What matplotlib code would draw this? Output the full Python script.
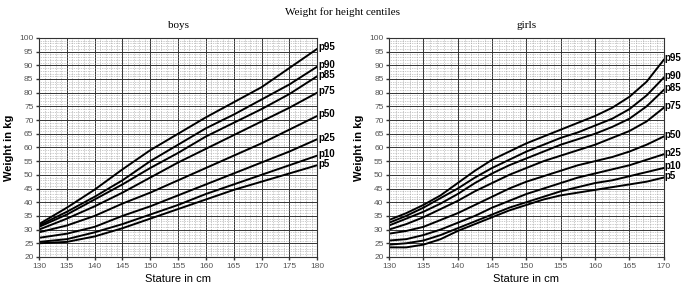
import numpy as np
import matplotlib
matplotlib.use("Agg")
import matplotlib.pyplot as plt
from matplotlib.ticker import MultipleLocator

# stature (cm) and weight (kg) centiles
boys_height = [130, 135, 140, 145, 150, 155, 160, 165, 170, 175, 180]
boys_centiles = {
    "p95": [32, 38, 44.6, 52, 59, 65, 71, 76.5, 82, 89, 96],
    "p90": [31.5, 36.5, 42, 48, 55, 61, 67, 72, 77.5, 83, 89.5],
    "p85": [31, 35.5, 41, 46.5, 52.5, 58, 64, 69, 74, 79.5, 86],
    "p75": [30, 34, 38.5, 43.5, 49, 54.5, 59.5, 64.5, 69.5, 74.5, 80],
    "p50": [29, 31.5, 35, 39.5, 43.5, 48, 52.5, 57, 61.5, 66.5, 71.5],
    "p25": [27, 28.5, 31, 35, 38.5, 42.5, 46.5, 50.5, 54.5, 58.5, 63],
    "p10": [25.5, 26.5, 29, 32, 35.5, 39, 43, 46.5, 50, 53.5, 57],
    "p5": [25, 25.5, 27.5, 30.5, 34, 37.5, 41, 44.5, 47.5, 50.5, 53.5],
}

girls_height = [130, 132.5, 135, 137.5, 140, 142.5, 145, 147.5, 150,
                152.5, 155, 157.5, 160, 162.5, 165, 167.5, 170]
girls_centiles = {
    "p95": [33.5, 36, 39, 42.5, 47, 51.5, 55.5, 58.5, 61.5, 64, 66.5, 69, 71.5, 74.5, 78.5, 84, 92],
    "p90": [32.5, 35, 38, 41.5, 45, 49, 52.5, 55.5, 58.5, 61, 63.5, 65.5, 68, 70.5, 74, 79, 85.5],
    "p85": [31.5, 34, 36.5, 39.5, 43, 47, 50.5, 53.5, 56, 58.5, 61, 63, 65, 67.5, 70.5, 75, 81],
    "p75": [30, 32, 34.5, 37.5, 40.5, 44, 47, 50, 52.5, 55, 57, 59, 61, 63.5, 66, 69.5, 74.5],
    "p50": [28.5, 29.5, 31, 33.5, 36, 39, 42, 45, 47.5, 49.5, 51.5, 53.5, 55, 56.5, 58.5, 61, 64],
    "p25": [26, 26.5, 28, 30, 32.5, 35, 38, 40.5, 43, 45, 47, 49, 50.5, 52, 53.5, 55.5, 57.5],
    "p10": [24.5, 25, 26, 28, 30.5, 33, 35.5, 38, 40, 42, 44, 45.5, 47, 48, 49.5, 51, 52.5],
    "p5": [23.5, 23.5, 24.5, 26.5, 29.5, 32, 34.5, 37, 39, 41, 42.5, 43.5, 44.5, 45.5, 46.5, 47.5, 49],
}

plt.rcParams["font.family"] = ["Liberation Sans", "DejaVu Sans"]


def draw_panel(ax, heights, centiles, title, xmax):
    ax.set_xlim(130, xmax)
    ax.set_ylim(20, 100)
    ax.xaxis.set_major_locator(MultipleLocator(5))
    ax.xaxis.set_minor_locator(MultipleLocator(1))
    ax.yaxis.set_major_locator(MultipleLocator(5))
    ax.yaxis.set_minor_locator(MultipleLocator(1))
    ax.grid(which="major", color="#333333", linewidth=0.7)
    ax.grid(which="minor", color="#999999", linewidth=0.5, linestyle=(0, (1, 1.5)))
    ax.set_axisbelow(True)
    ax.tick_params(which="major", labelsize=6, length=2.5, width=1, pad=1.5,
                   colors="#333333", labelcolor="#555555")
    ax.tick_params(which="minor", length=0)
    for spine in ax.spines.values():
        spine.set_color("#333333")
        spine.set_linewidth(0.8)

    for name, weights in centiles.items():
        ax.plot(heights, weights, color="black", linewidth=1.4)
        ax.text(xmax + (xmax - 130) * 0.004, weights[-1] + 0.6, name,
                fontsize=7, fontweight="bold", ha="left", va="center", clip_on=False)

    ax.set_title(title, family=["Liberation Serif"], fontsize=8, pad=7)
    ax.set_xlabel("Stature in cm", fontsize=8, labelpad=3)
    ax.set_ylabel("Weight in kg", fontsize=8, fontweight="bold", labelpad=4)


fig = plt.figure(figsize=(6.85, 2.83), dpi=100)
ax_boys = fig.add_axes([0.057, 0.092, 0.406, 0.774])
ax_girls = fig.add_axes([0.568, 0.092, 0.401, 0.774])

draw_panel(ax_boys, boys_height, boys_centiles, "boys", 180)
draw_panel(ax_girls, girls_height, girls_centiles, "girls", 170)

fig.text(0.5, 0.975, "Weight for height centiles", family=["Liberation Serif"],
         fontsize=8, ha="center", va="top")

fig.savefig("out.png", dpi=100)
